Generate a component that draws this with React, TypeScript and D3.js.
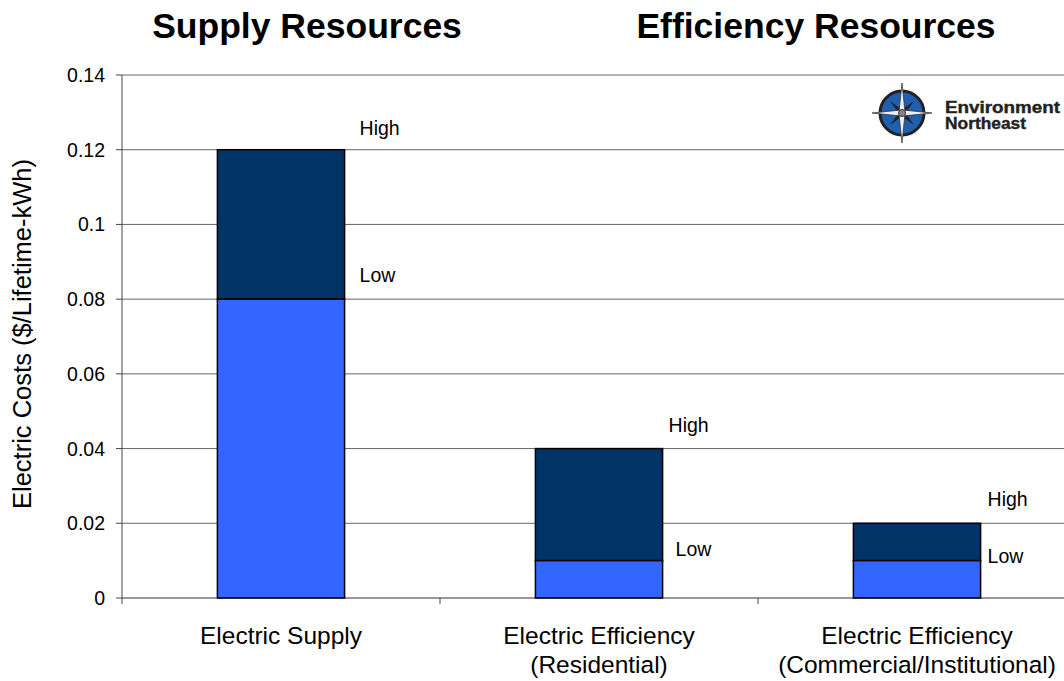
import React from "react";
import * as d3 from "d3";

const categories = ["Electric Supply", "Electric Efficiency\n(Residential)", "Electric Efficiency\n(Commercial/Institutional)"];
const lowValues = [0.08, 0.01, 0.01];
const highValues = [0.12, 0.04, 0.02];
const yTicks = [0, 0.02, 0.04, 0.06, 0.08, 0.1, 0.12, 0.14];
const titles = ["Supply Resources", "Efficiency Resources"];
// label offsets (layout only)
const highLabelDy = [-15, -17, -17];
const lowLabelDy = [-17, -5, 2];
const highLabelDx = [15, 6, 7];
const lowLabelDx = [15, 13, 7];

export default function App() {
  const W = 1064, H = 681;
  const left = 122, top = 75, bottom = 598;
  const step = 318;
  const x = d3.scaleBand<string>().domain(categories).range([left, left + step * 3]).paddingInner(0.6).paddingOuter(0.3);
  const y = d3.scaleLinear().domain([0, 0.14]).range([bottom, top]);
  const font = "Liberation Sans, Arial, sans-serif";
  const bw = x.bandwidth();

  const compassPts = (r1: number, r2: number, n: number, rot: number) => {
    const pts: string[] = [];
    for (let i = 0; i < n * 2; i++) {
      const a = rot + (i * Math.PI) / n;
      const r = i % 2 === 0 ? r1 : r2;
      pts.push(`${Math.sin(a) * r},${-Math.cos(a) * r}`);
    }
    return pts.join(" ");
  };

  return (
    <svg width={W} height={H} style={{ position: "absolute", left: 0, top: 0, background: "#fff" }} fontFamily={font}>
      <text x={307} y={38} fontSize={35.5} fontWeight="bold" textAnchor="middle">{titles[0]}</text>
      <text x={816} y={38} fontSize={35.5} fontWeight="bold" textAnchor="middle">{titles[1]}</text>
      {yTicks.map((t) => (
        <g key={t}>
          <line x1={left} x2={W} y1={y(t)} y2={y(t)} stroke={t === 0 ? "#333" : "#666"} strokeWidth={1} />
          <line x1={left - 6} x2={left} y1={y(t)} y2={y(t)} stroke="#444" />
          <text x={left - 17} y={y(t) + 7} fontSize={19.5} textAnchor="end">{t === 0 ? "0" : String(t)}</text>
        </g>
      ))}
      <line x1={left} x2={left} y1={top} y2={bottom + 6} stroke="#444" />
      {[1, 2, 3].map((i) => (
        <line key={i} x1={left + step * i} x2={left + step * i} y1={bottom} y2={bottom + 6} stroke="#444" />
      ))}
      {categories.map((c, i) => {
        const bx = x(c)!;
        return (
          <g key={c}>
            <rect x={bx} y={y(highValues[i])} width={bw} height={y(lowValues[i]) - y(highValues[i])} fill="#003366" stroke="#000" strokeWidth={1.5} />
            <rect x={bx} y={y(lowValues[i])} width={bw} height={y(0) - y(lowValues[i])} fill="#3366FF" stroke="#000" strokeWidth={1.5} />
            <text x={bx + bw + highLabelDx[i]} y={y(highValues[i]) + highLabelDy[i]} fontSize={19.5}>High</text>
            <text x={bx + bw + lowLabelDx[i]} y={y(lowValues[i]) + lowLabelDy[i]} fontSize={19.5}>Low</text>
            {c.split("\n").map((line, j) => (
              <text key={j} x={bx + bw / 2} y={644 + j * 29} fontSize={24.5} textAnchor="middle">{line}</text>
            ))}
          </g>
        );
      })}
      <text transform={`translate(31,334) rotate(-90)`} fontSize={25.5} textAnchor="middle">Electric Costs ($/Lifetime-kWh)</text>
      <g transform="translate(902,113)">
        <circle r={27} fill="#fff" />
        <circle r={22} fill="#1f5fb0" stroke="#222" strokeWidth={3} />
        <polygon points={compassPts(17, 3.5, 4, Math.PI / 4)} fill="#223" />
        <polygon points={compassPts(30, 4, 4, 0)} fill="#eee" stroke="#333" strokeWidth={0.8} />
        <circle r={3.5} fill="#888" stroke="#333" />
      </g>
      <text x={945} y={113} fontSize={16.5} fontWeight="900" fill="#222" stroke="#222" strokeWidth={0.4} textLength={115} lengthAdjust="spacingAndGlyphs">Environment</text>
      <text x={945} y={129} fontSize={16.5} fontWeight="900" fill="#222" stroke="#222" strokeWidth={0.4} textLength={81} lengthAdjust="spacingAndGlyphs">Northeast</text>
    </svg>
  );
}
